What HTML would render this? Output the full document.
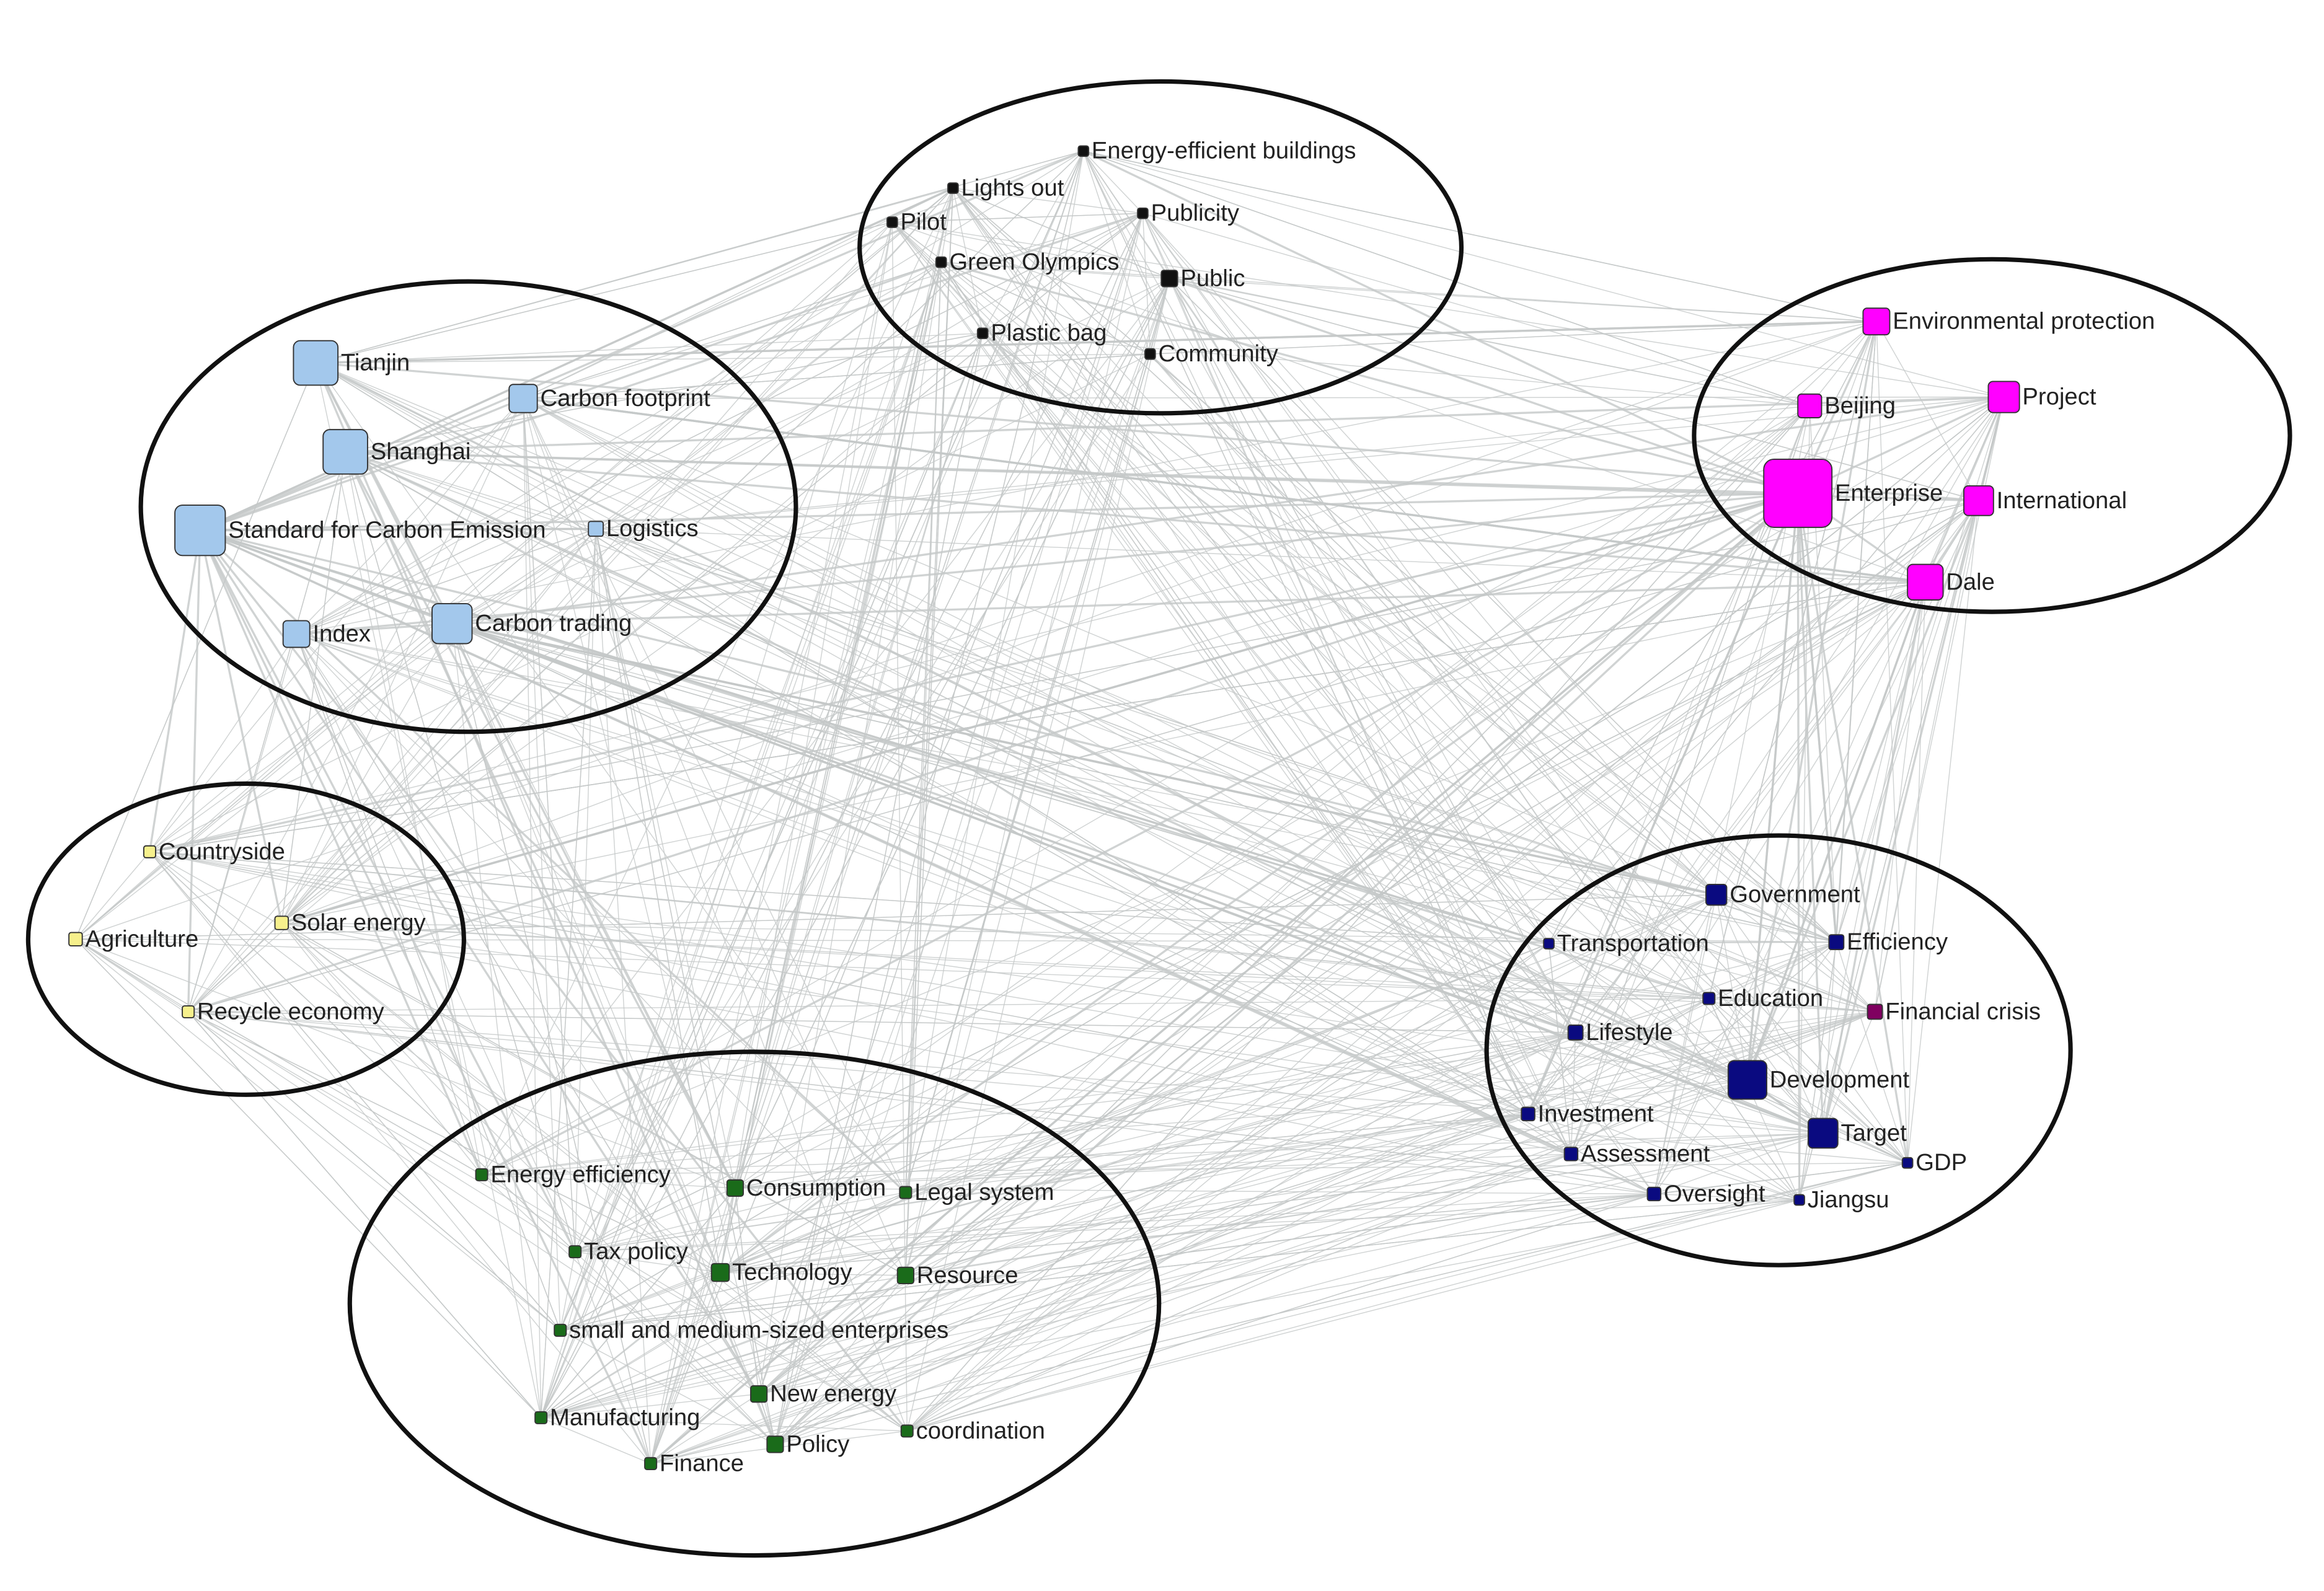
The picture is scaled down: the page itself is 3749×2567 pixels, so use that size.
<!DOCTYPE html>
<html><head><meta charset="utf-8">
<style>
html,body{margin:0;padding:0;background:#fff;}
svg{display:block;}
text{font-family:"Liberation Sans",sans-serif;font-size:16px;fill:#222;}
</style></head>
<body>
<svg id="s" width="3749" height="2567" viewBox="0 0 1568 1074" preserveAspectRatio="none" xmlns="http://www.w3.org/2000/svg">
<rect width="1568" height="1074" fill="#fff"/>
<g id="edges"></g>
<g fill="none" stroke="#111" stroke-width="3">
<ellipse cx="783" cy="167" rx="203" ry="112"/>
<ellipse cx="316" cy="342" rx="221" ry="152"/>
<ellipse cx="1344" cy="294" rx="201" ry="119"/>
<ellipse cx="166" cy="634" rx="147" ry="105"/>
<ellipse cx="509" cy="880" rx="273" ry="170"/>
<ellipse cx="1200" cy="709" rx="197" ry="145"/>
</g>
<g id="nodes"></g>
</svg>
<script>
var N=[
["Energy-efficient buildings",731,102,7,"#111"],["Lights out",643,127,7,"#111"],["Pilot",602,150,7,"#111"],["Publicity",771,144,7,"#111"],["Green Olympics",635,177,7,"#111"],["Public",789,188,11,"#111"],["Plastic bag",663,225,7,"#111"],["Community",776,239,7,"#111"],
["Tianjin",213,245,30,"#a3c8ec"],["Carbon footprint",353,269,19,"#a3c8ec"],["Shanghai",233,305,30,"#a3c8ec"],["Standard for Carbon Emission",135,358,34,"#a3c8ec"],["Logistics",402,357,10,"#a3c8ec"],["Index",200,428,18,"#a3c8ec"],["Carbon trading",305,421,27,"#a3c8ec"],
["Environmental protection",1266,217,18,"#ff00ff"],["Beijing",1221,274,16,"#ff00ff"],["Project",1352,268,21,"#ff00ff"],["Enterprise",1213,333,46,"#ff00ff"],["International",1335,338,20,"#ff00ff"],["Dale",1299,393,24,"#ff00ff"],
["Countryside",101,575,8,"#f6f08c"],["Agriculture",51,634,9,"#f6f08c"],["Solar energy",190,623,9,"#f6f08c"],["Recycle economy",127,683,8,"#f6f08c"],
["Energy efficiency",325,793,8,"#1a6b1a"],["Consumption",496,802,11,"#1a6b1a"],["Legal system",611,805,8,"#1a6b1a"],["Tax policy",388,845,8,"#1a6b1a"],["Technology",486,859,12,"#1a6b1a"],["Resource",611,861,11,"#1a6b1a"],["small and medium-sized enterprises",378,898,8,"#1a6b1a"],["New energy",512,941,11,"#1a6b1a"],["Manufacturing",365,957,8,"#1a6b1a"],["Policy",523,975,11,"#1a6b1a"],["coordination",612,966,8,"#1a6b1a"],["Finance",439,988,8,"#1a6b1a"],
["Government",1158,604,14,"#0a0a80"],["Transportation",1045,637,7,"#0a0a80"],["Efficiency",1239,636,10,"#0a0a80"],["Education",1153,674,8,"#0a0a80"],["Financial crisis",1265,683,10,"#800060"],["Lifestyle",1063,697,10,"#0a0a80"],["Development",1179,729,26,"#0a0a80"],["Investment",1031,752,9,"#0a0a80"],["Target",1230,765,20,"#0a0a80"],["Assessment",1060,779,9,"#0a0a80"],["GDP",1287,785,7,"#0a0a80"],["Oversight",1116,806,9,"#0a0a80"],["Jiangsu",1214,810,7,"#0a0a80"]
];
var seed=12345;function r(){seed=(seed*1103515245+12345)%2147483648;return seed/2147483648;}
var eg=document.getElementById("edges"),h="";
for(var i=0;i<750;i++){var a=N[Math.floor(r()*N.length)],b=N[Math.floor(r()*N.length)];if(a===b)continue;
var w=(a[3]+b[3])>40?1.4:0.6;
h+='<line x1="'+a[1]+'" y1="'+a[2]+'" x2="'+b[1]+'" y2="'+b[2]+'" stroke="#c4c8c8" stroke-width="'+w+'" stroke-opacity="0.8"/>';}
eg.innerHTML=h;
var ng=document.getElementById("nodes"),k="";
N.forEach(function(n){var s=n[3],rr=Math.max(1.5,s*0.15);
k+='<rect x="'+(n[1]-s/2)+'" y="'+(n[2]-s/2)+'" width="'+s+'" height="'+s+'" rx="'+rr+'" fill="'+n[4]+'" stroke="#333" stroke-width="0.8"/>';
k+='<text x="'+(n[1]+s/2+2)+'" y="'+(n[2]+5)+'">'+n[0]+'</text>';});
ng.innerHTML=k;
</script>
</body></html>
